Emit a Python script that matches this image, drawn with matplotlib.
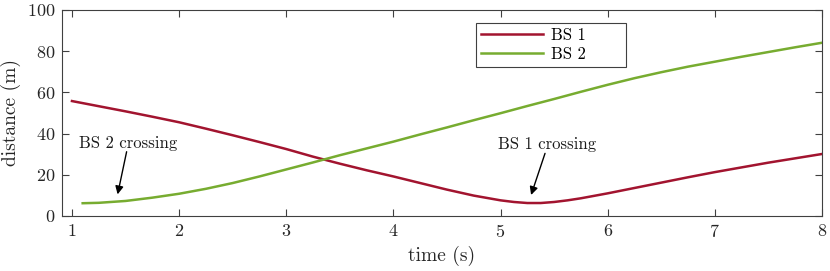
import matplotlib
matplotlib.use("Agg")
import matplotlib.pyplot as plt

plt.rcParams['font.family'] = ['cmr10', 'DejaVu Serif']
plt.rcParams['mathtext.fontset'] = 'cm'
plt.rcParams['axes.formatter.use_mathtext'] = True

# BS 1 distance (m) vs time (s)
t_bs1 = [1.0, 1.25, 1.5, 1.75, 2.0, 2.25, 2.5, 2.75, 3.0, 3.25, 3.5, 3.75, 4.0,
         4.25, 4.5, 4.75, 5.0, 5.125, 5.25, 5.375, 5.5, 5.625, 5.75, 6.0, 6.25,
         6.5, 6.75, 7.0, 7.25, 7.5, 7.75, 8.0]
d_bs1 = [55.8, 53.3, 50.8, 48.2, 45.5, 42.4, 39.2, 35.9, 32.5, 28.8, 25.4, 22.2, 19.2,
         16.0, 12.8, 9.9, 7.6, 6.8, 6.3, 6.3, 6.8, 7.6, 8.6, 11.0, 13.6,
         16.2, 18.8, 21.3, 23.6, 25.9, 28.0, 30.1]

# BS 2 distance (m) vs time (s)
t_bs2 = [1.1, 1.25, 1.5, 1.75, 2.0, 2.25, 2.5, 2.75, 3.0, 3.25, 3.5, 3.75, 4.0,
         4.25, 4.5, 4.75, 5.0, 5.25, 5.5, 5.75, 6.0, 6.25, 6.5, 6.75, 7.0,
         7.25, 7.5, 7.75, 8.0]
d_bs2 = [6.2, 6.4, 7.3, 8.9, 10.8, 13.2, 16.0, 19.2, 22.6, 26.0, 29.5, 32.8, 36.1,
         39.6, 43.0, 46.5, 49.9, 53.4, 56.8, 60.3, 63.7, 66.9, 69.8, 72.5, 74.9,
         77.3, 79.6, 81.9, 84.1]

labels = ["BS 1", "BS 2"]
colors = ["#A2142F", "#77AC30"]
xticks = [1, 2, 3, 4, 5, 6, 7, 8]
yticks = [0, 20, 40, 60, 80, 100]

fig = plt.figure(figsize=(8.3, 2.71), dpi=100)
ax = fig.add_axes([62/830, 1-216/271, 760/830, 206/271])

ax.plot(t_bs1, d_bs1, color=colors[0], lw=1.8, label=labels[0])
ax.plot(t_bs2, d_bs2, color=colors[1], lw=1.8, label=labels[1])

ax.set_xlim(0.907, 8)
ax.set_ylim(0, 100)
ax.set_xticks(xticks)
ax.set_yticks(yticks)
ax.tick_params(direction='in', top=True, right=True, length=5, width=0.8,
               color='#404040', labelsize=13, labelcolor='#262626', pad=5)
for s in ax.spines.values():
    s.set_color('#404040')
    s.set_linewidth(0.8)

ax.set_xlabel('time (s)', fontsize=14, color='#262626', labelpad=4)
ax.set_ylabel('distance (m)', fontsize=14, color='#262626', labelpad=4)

# annotations
ax.text(1.52, 35.5, 'BS 2 crossing', fontsize=12, ha='center', va='center', color='#1a1a1a')
ax.annotate('', xy=(1.426, 10.5), xytext=(1.51, 31.2),
            arrowprops=dict(arrowstyle='-|>', color='k', lw=1.0, mutation_scale=12,
                            shrinkA=0, shrinkB=0))
ax.text(5.43, 35.0, 'BS 1 crossing', fontsize=12, ha='center', va='center', color='#1a1a1a')
ax.annotate('', xy=(5.285, 10.2), xytext=(5.415, 30.4),
            arrowprops=dict(arrowstyle='-|>', color='k', lw=1.0, mutation_scale=12,
                            shrinkA=0, shrinkB=0))

leg = ax.legend(loc='upper left', bbox_to_anchor=(0.545, 0.723, 0.197, 0.214),
                mode='expand', borderaxespad=0,
                fancybox=False, fontsize=12, handlelength=3.7, handletextpad=0.5,
                borderpad=0.3, labelspacing=0.2, framealpha=1)
leg.get_frame().set_edgecolor('#404040')
leg.get_frame().set_linewidth(0.8)

fig.savefig('out.png', dpi=100)
